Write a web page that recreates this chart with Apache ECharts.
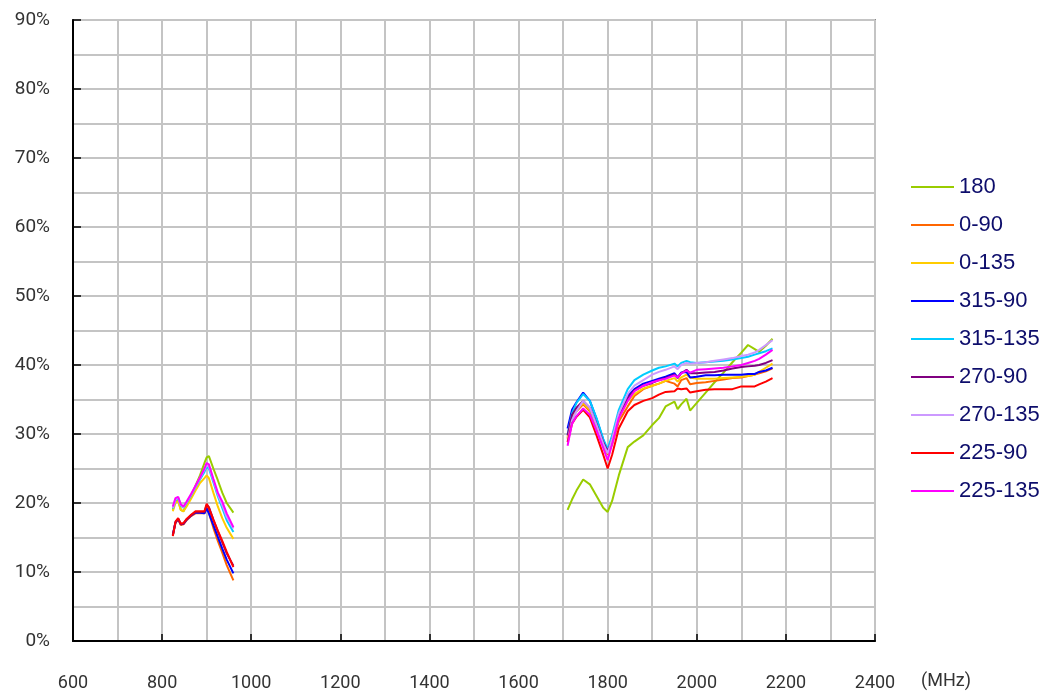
<!DOCTYPE html>
<html>
<head>
<meta charset="utf-8">
<script src="https://cdn.jsdelivr.net/npm/echarts@6/dist/echarts.min.js"></script>
<style>
html,body{margin:0;padding:0;background:#fff;}
#chart{width:1049px;height:693px;}
</style>
</head>
<body>
<div id="chart"></div>
<script>
// ---- data ----
const seriesNames = ['180','0-90','0-135','315-90','315-135','270-90','270-135','225-90','225-135'];
const seriesColors = ['#99cc00','#ff6600','#ffcc00','#0000ff','#00ccff','#800080','#cc99ff','#ff0000','#ff00ff'];

const freqLow = [824, 830, 836, 842, 848, 855, 865, 875, 885, 895, 900, 905, 915, 925, 935, 945, 960];
const freqHigh = [1710, 1720, 1730, 1745, 1760, 1775, 1790, 1800, 1810, 1825, 1845, 1860, 1880, 1900, 1915, 1930, 1950, 1957, 1965, 1977, 1985, 2000, 2020, 2040, 2060, 2080, 2100, 2115, 2130, 2140, 2155, 2170];

const low180    = [19.0, 20.3, 20.4, 19.0, 18.8, 19.8, 21.0, 22.5, 24.0, 25.8, 26.6, 26.8, 25.0, 23.3, 21.5, 20.0, 18.6];
const low0_90   = [15.3, 17.1, 17.6, 16.8, 16.9, 17.5, 18.1, 18.5, 18.5, 18.5, 19.5, 18.6, 16.4, 14.5, 12.8, 11.0, 8.8];
const low0_135  = [18.8, 20.0, 20.3, 19.0, 18.8, 19.5, 20.6, 21.8, 22.9, 23.6, 24.0, 23.6, 21.5, 19.5, 17.8, 16.4, 14.8];
const low315_90 = [15.4, 17.2, 17.7, 16.9, 17.0, 17.6, 18.2, 18.6, 18.6, 18.5, 19.2, 18.5, 16.8, 15.1, 13.4, 11.8, 9.8];
const low315_135= [19.2, 20.4, 20.7, 19.6, 19.3, 20.0, 21.1, 22.3, 23.4, 24.5, 25.2, 25.0, 23.0, 21.0, 19.3, 17.5, 15.8];
const low270_90 = [15.3, 17.2, 17.7, 16.9, 17.0, 17.6, 18.2, 18.7, 18.7, 18.7, 19.7, 19.4, 17.6, 15.9, 14.3, 12.7, 10.9];
const low270_135= [19.3, 20.5, 20.8, 19.7, 19.4, 20.1, 21.2, 22.4, 23.6, 24.8, 25.5, 25.3, 23.3, 21.3, 19.7, 18.0, 16.3];
const low225_90 = [15.2, 17.3, 17.8, 17.0, 17.1, 17.7, 18.3, 18.8, 18.8, 18.8, 19.9, 19.3, 17.6, 16.0, 14.5, 12.9, 10.7];
const low225_135= [19.5, 20.7, 20.9, 19.8, 19.5, 20.2, 21.3, 22.5, 23.7, 25.0, 25.8, 25.6, 23.5, 21.5, 20.2, 18.5, 16.5];

const high180    = [19.0, 20.5, 21.8, 23.4, 22.7, 21.0, 19.3, 18.7, 20.3, 24.0, 28.1, 28.9, 29.8, 31.3, 32.3, 34.0, 34.7, 33.6, 34.3, 35.1, 33.4, 34.5, 36.0, 37.5, 38.9, 40.4, 41.8, 42.9, 42.3, 41.9, 42.8, 43.8];
const high0_90   = [29.3, 32.3, 33.3, 34.3, 33.3, 31.0, 28.5, 27.0, 28.5, 31.8, 34.0, 35.5, 36.5, 37.0, 37.3, 37.7, 37.3, 36.9, 37.8, 38.1, 37.2, 37.4, 37.5, 37.7, 37.9, 38.1, 38.2, 38.4, 38.6, 38.8, 39.1, 39.5];
const high0_135  = [29.5, 32.5, 33.5, 34.5, 33.5, 31.2, 28.6, 27.2, 28.8, 32.3, 34.8, 35.8, 36.6, 37.0, 37.3, 37.7, 38.1, 37.6, 38.2, 38.6, 38.2, 38.0, 38.0, 38.0, 38.1, 38.2, 38.3, 38.4, 38.6, 39.0, 39.6, 40.2];
const high315_90 = [30.8, 33.5, 34.6, 36.0, 34.8, 32.2, 29.2, 27.4, 29.5, 32.6, 35.5, 36.5, 37.3, 37.7, 38.0, 38.3, 38.8, 38.2, 38.9, 39.0, 38.2, 38.3, 38.5, 38.5, 38.6, 38.6, 38.6, 38.7, 38.7, 39.0, 39.2, 39.6];
const high315_135= [29.9, 33.0, 34.5, 35.8, 34.8, 32.3, 29.3, 27.8, 29.8, 33.5, 36.5, 37.8, 38.6, 39.2, 39.6, 39.8, 40.2, 39.8, 40.3, 40.6, 40.4, 40.3, 40.4, 40.5, 40.6, 40.8, 41.0, 41.2, 41.5, 41.7, 42.0, 42.4];
const high270_90 = [29.8, 32.8, 33.8, 34.8, 33.8, 31.4, 28.8, 27.5, 29.2, 32.8, 35.2, 36.3, 37.0, 37.4, 37.8, 38.1, 38.6, 38.1, 38.8, 39.3, 38.8, 38.8, 38.9, 39.0, 39.2, 39.5, 39.7, 39.8, 39.9, 40.0, 40.3, 40.7];
const high270_135= [29.0, 32.0, 33.3, 34.8, 33.8, 31.3, 28.6, 27.2, 29.3, 33.0, 35.8, 37.0, 37.8, 38.6, 39.0, 39.3, 39.8, 39.4, 40.0, 40.3, 40.2, 40.3, 40.4, 40.6, 40.8, 41.0, 41.3, 41.5, 41.8, 42.2, 42.9, 43.6];
const high225_90 = [28.8, 31.5, 32.5, 33.5, 32.4, 29.8, 27.0, 25.0, 27.0, 30.8, 33.3, 34.2, 34.8, 35.2, 35.7, 36.1, 36.2, 36.6, 36.5, 36.6, 36.0, 36.2, 36.4, 36.5, 36.5, 36.5, 36.9, 36.9, 36.9, 37.2, 37.6, 38.1];
const high225_135= [28.3, 31.5, 32.6, 33.7, 32.8, 30.5, 28.0, 26.2, 28.5, 32.3, 34.8, 36.2, 37.0, 37.5, 37.8, 38.0, 38.5, 38.2, 38.8, 39.2, 38.9, 39.3, 39.4, 39.5, 39.6, 39.8, 40.0, 40.3, 40.6, 40.9, 41.5, 42.2];

const lowValues  = [low180, low0_90, low0_135, low315_90, low315_135, low270_90, low270_135, low225_90, low225_135];
const highValues = [high180, high0_90, high0_135, high315_90, high315_135, high270_90, high270_135, high225_90, high225_135];

const xTickLabels = [600, 800, 1000, 1200, 1400, 1600, 1800, 2000, 2200, 2400];

// ---- chart ----
const chart = echarts.init(document.getElementById('chart'), null, {renderer: 'canvas'});
const labelFont = 'Roboto, "DejaVu Sans", sans-serif';

const series = seriesNames.map((name, i) => {
  const data = freqLow.map((f, k) => [f, lowValues[i][k]])
    .concat([[1300, '-']])
    .concat(freqHigh.map((f, k) => [f, highValues[i][k]]));
  return {
    name: name,
    type: 'line',
    data: data,
    symbol: 'none',
    showSymbol: false,
    connectNulls: false,
    smooth: false,
    lineStyle: {color: seriesColors[i], width: 2},
    itemStyle: {color: seriesColors[i]},
    emphasis: {disabled: true}
  };
});

chart.setOption({
  animation: false,
  backgroundColor: '#fff',
  grid: {left: 73, right: 174, top: 20, bottom: 52, show: true, borderColor: '#8a8a8a', borderWidth: 2, backgroundColor: 'transparent'},
  xAxis: {
    type: 'value',
    min: 600, max: 2400, interval: 200,
    axisLine: {show: true, lineStyle: {color: '#000', width: 2}},
    axisTick: {show: true, inside: true, length: 7, lineStyle: {color: '#000', width: 1.5}},
    axisLabel: {
      color: '#333', fontSize: 18, fontFamily: labelFont, margin: 33,
      formatter: v => xTickLabels.indexOf(v) >= 0 ? String(v) : ''
    },
    splitLine: {show: true, lineStyle: {color: '#c4c4c4', width: 2}},
    minorTick: {show: false, splitNumber: 2},
    minorSplitLine: {show: true, lineStyle: {color: '#c4c4c4', width: 2}}
  },
  yAxis: {
    type: 'value',
    min: 0, max: 90, interval: 10,
    axisLine: {show: true, lineStyle: {color: '#000', width: 2}},
    axisTick: {show: true, inside: true, length: 8, lineStyle: {color: '#000', width: 1.5}},
    axisLabel: {color: '#333', fontSize: 19, fontFamily: labelFont, margin: 23, formatter: v => v + '%'},
    splitLine: {show: true, lineStyle: {color: '#c4c4c4', width: 2}},
    minorTick: {show: false, splitNumber: 2},
    minorSplitLine: {show: true, lineStyle: {color: '#c4c4c4', width: 2}}
  },
  legend: {
    show: true,
    orient: 'vertical',
    left: 906,
    top: 171,
    itemWidth: 43,
    itemHeight: 14,
    itemGap: 16,
    icon: 'path://M0,7L43,7L43,9L0,9Z',
    textStyle: {color: '#0d0d6b', fontSize: 22, fontFamily: '"Liberation Sans", Arial, sans-serif'},
    data: seriesNames
  },
  graphic: [{
    type: 'text',
    left: 921,
    top: 672,
    style: {text: '(MHz)', fill: '#333', font: '18px ' + labelFont}
  }],
  series: series
});
</script>
</body>
</html>
